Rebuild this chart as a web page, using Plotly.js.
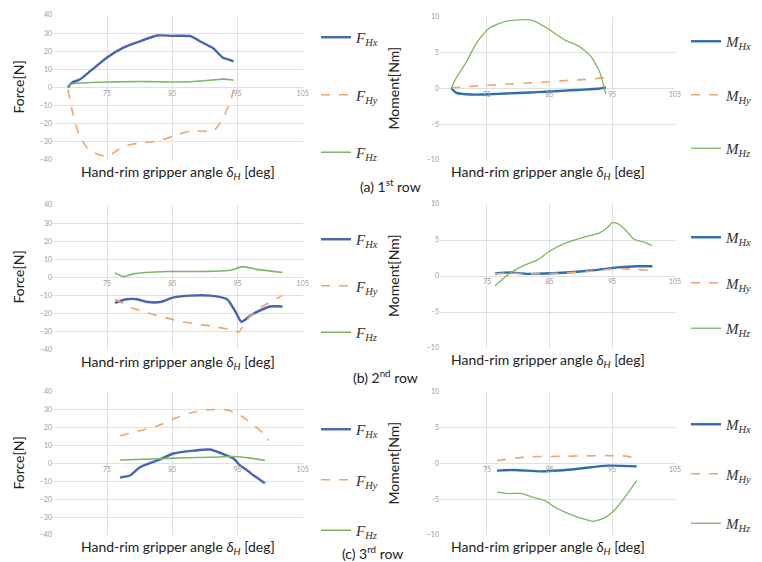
<!DOCTYPE html>
<html>
<head>
<meta charset="utf-8">
<script src="https://cdn.plot.ly/plotly-3.0.1.min.js"></script>
<style>html,body{margin:0;padding:0;background:#fff;}#chart{width:762px;height:562px;}</style>
</head>
<body>
<div id="chart"></div>
<script>
// ---------- tick labels ----------
const angleTicks = [75, 85, 95, 105];
const forceTicks = [-40, -30, -20, -10, 0, 10, 20, 30, 40];
const momentTicks = [-10, -5, 0, 5, 10];

// ---------- (a) 1st row : force ----------
const aForceAngle = [69, 69.6, 70.8, 72.4, 75, 77.5, 80, 82.7, 85, 87.8, 89.3, 91.3, 92.7, 94, 94.4];
const aFHx = [0, 2.7, 4.4, 9, 16.6, 22, 25.5, 28.7, 28.5, 28.3, 25.4, 21.5, 16.6, 15, 14.4];
const aFHy = [-1, -12, -27, -35, -38, -32.5, -30.5, -29.6, -27, -24, -24, -24, -17.6, -6.6, -1];
const aFHz = [1, 2, 2.5, 2.8, 3, 3.2, 3.3, 3.2, 3, 3.2, 3.6, 4.2, 4.6, 4.3, 4];
// ---------- (a) 1st row : moment ----------
const aMomentAngle = [69.3, 70.1, 71.7, 73.3, 75.3, 78, 82, 84.3, 87.4, 89.5, 91.5, 93, 93.7, 94];
const aMHx = [0, -0.6, -0.8, -0.85, -0.8, -0.7, -0.55, -0.45, -0.3, -0.2, -0.1, 0, 0.1, 0.1];
const aMHy = [0.1, 0.15, 0.25, 0.35, 0.45, 0.6, 0.8, 0.9, 1.1, 1.2, 1.3, 1.45, 1.5, 1.3];
const aMHz = [0, 1.5, 3.7, 6.3, 8.4, 9.4, 9.6, 8.6, 6.8, 6, 4.6, 2.3, 0.2, -0.8];

// ---------- (b) 2nd row : force ----------
const bFHxAngle = [76.2, 78, 79.6, 81.2, 83.2, 85.2, 87.8, 90.8, 93.4, 94.7, 95.6, 97, 98, 100, 101.9];
const bFHx = [-14, -12, -12, -13.5, -13.5, -11, -10, -10, -12, -19, -24.4, -21, -19, -16, -16];
const bFHyAngle = [76.2, 79, 82.7, 86.7, 91.3, 94.2, 95.2, 96.2, 98, 99.8, 101.3, 101.9];
const bFHy = [-12, -17, -21, -24.5, -27, -29, -30, -24.5, -17.8, -14, -11, -10];
const bFHzAngle = [76.2, 77.5, 79, 84.2, 89.3, 93.9, 95.8, 98, 101.9];
const bFHz = [2.7, 0.5, 2, 3.3, 3.3, 4, 6, 4.5, 2.8];
// ---------- (b) 2nd row : moment ----------
const bMHxyAngle = [76.3, 78.7, 81.5, 87, 92, 95.8, 99, 101.4];
const bMHx = [0.35, 0.5, 0.3, 0.45, 0.8, 1.2, 1.35, 1.35];
const bMHy = [0.3, 0.4, 0.3, 0.4, 0.7, 1.0, 0.9, 0.75];
const bMHzAngle = [76.3, 78.7, 81, 83, 85.1, 87.3, 90.5, 93, 94.2, 95, 95.8, 97, 98.5, 100.1, 101.4];
const bMHz = [-1.35, 0.4, 1.5, 2.2, 3.5, 4.5, 5.4, 6, 6.7, 7.4, 7.3, 6.5, 5.1, 4.7, 4.2];

// ---------- (c) 3rd row : force ----------
const cFHxAngle = [77, 78.5, 80, 82.7, 85.2, 88.3, 90.8, 93.4, 94.4, 95.4, 96.5, 97.5, 99.2];
const cFHx = [-7.8, -6.7, -2.2, 1.7, 5.6, 7.2, 7.8, 4.4, 2.8, -1.1, -3.9, -6.7, -11];
const cFHyAngle = [77, 80, 82.7, 85.2, 87.8, 90.4, 93.4, 95.4, 97, 98.8, 99.8];
const cFHy = [15.5, 18.3, 21, 25, 28.3, 30, 30, 27, 22.8, 17.4, 12.8];
const cFHzAngle = [77, 82, 87, 91, 94.4, 97, 99.2];
const cFHz = [2, 2.5, 3.2, 3.5, 3.9, 3, 1.7];
// ---------- (c) 3rd row : moment ----------
const cMHxAngle = [76.6, 79.4, 83.7, 88.9, 94.3, 98.9];
const cMHx = [-1, -0.9, -1.1, -0.8, -0.3, -0.4];
const cMHyAngle = [76.6, 81, 86.5, 94.3, 97.5, 98.9];
const cMHy = [0.4, 0.9, 1.0, 1.1, 1.0, 0.5];
const cMHzAngle = [76.6, 78.3, 80.5, 82.6, 84.3, 85.8, 88, 90.2, 92, 94, 95.6, 97.2, 98.9];
const cMHz = [-4, -4.2, -4.2, -4.8, -5.2, -6.1, -7, -7.7, -8.1, -7.5, -6.3, -4.5, -2.4];

// ---------- styling ----------
const W = 762, H = 562;
const px = v => v / W;
const py = v => 1 - v / H;
const BLUE_F = '#4665b5', BLUE_M = '#2e6db4', ORANGE = '#f2a46a', GREEN = '#7cb860';

function tr(x, y, n, name, color, width, dash, legend) {
  return {
    x: x, y: y, type: 'scatter', mode: 'lines',
    xaxis: 'x' + (n === 1 ? '' : n), yaxis: 'y' + (n === 1 ? '' : n),
    name: name, legend: legend, legendgroup: name + n,
    line: {color: color, width: width, dash: dash, shape: 'spline', smoothing: 0.6}
  };
}
const FX = '<i>F<sub>Hx</sub></i>', FY = '<i>F<sub>Hy</sub></i>', FZ = '<i>F<sub>Hz</sub></i>';
const MX = '<i>M<sub>Hx</sub></i>', MY = '<i>M<sub>Hy</sub></i>', MZ = '<i>M<sub>Hz</sub></i>';

const data = [
  tr(aForceAngle, aFHx, 1, FX, BLUE_F, 2.4, 'solid', 'legend'),
  tr(aForceAngle, aFHy, 1, FY, ORANGE, 1.6, 'dash', 'legend'),
  tr(aForceAngle, aFHz, 1, FZ, GREEN, 1.6, 'solid', 'legend'),
  tr(aMomentAngle, aMHx, 2, MX, BLUE_M, 2.4, 'solid', 'legend2'),
  tr(aMomentAngle, aMHy, 2, MY, ORANGE, 1.6, 'dash', 'legend2'),
  tr(aMomentAngle, aMHz, 2, MZ, GREEN, 1.3, 'solid', 'legend2'),
  tr(bFHxAngle, bFHx, 3, FX, BLUE_F, 2.4, 'solid', 'legend3'),
  tr(bFHyAngle, bFHy, 3, FY, ORANGE, 1.6, 'dash', 'legend3'),
  tr(bFHzAngle, bFHz, 3, FZ, GREEN, 1.6, 'solid', 'legend3'),
  tr(bMHxyAngle, bMHx, 4, MX, BLUE_M, 2.4, 'solid', 'legend4'),
  tr(bMHxyAngle, bMHy, 4, MY, ORANGE, 1.6, 'dash', 'legend4'),
  tr(bMHzAngle, bMHz, 4, MZ, GREEN, 1.3, 'solid', 'legend4'),
  tr(cFHxAngle, cFHx, 5, FX, BLUE_F, 2.4, 'solid', 'legend5'),
  tr(cFHyAngle, cFHy, 5, FY, ORANGE, 1.6, 'dash', 'legend5'),
  tr(cFHzAngle, cFHz, 5, FZ, GREEN, 1.6, 'solid', 'legend5'),
  tr(cMHxAngle, cMHx, 6, MX, BLUE_M, 2.4, 'solid', 'legend6'),
  tr(cMHyAngle, cMHy, 6, MY, ORANGE, 1.6, 'dash', 'legend6'),
  tr(cMHzAngle, cMHz, 6, MZ, GREEN, 1.3, 'solid', 'legend6')
];

// panel boxes in pixels: [left, right, top, bottom]
const boxes = [
  [53, 303, 15, 160], [440, 675, 17, 160],
  [53, 303, 205, 350], [440, 675, 204, 348],
  [53, 303, 392, 535], [440, 675, 392, 535]
];
// legend placement: [left px, top px, gap between entries]
const legendPos = [
  [316, 21, 35], [686, 25, 31],
  [316, 223, 24], [686, 221, 23],
  [316, 413, 28], [686, 408, 27]
];
const tickFont = {family: 'Lato, sans-serif', size: 7, color: '#9a9a9a'};
const layout = {
  width: W, height: H,
  margin: {l: 0, r: 0, t: 0, b: 0},
  paper_bgcolor: '#ffffff', plot_bgcolor: '#ffffff',
  showlegend: true,
  annotations: []
};
boxes.forEach((b, i) => {
  const n = i + 1, sfx = n === 1 ? '' : String(n);
  const isForce = i % 2 === 0;
  const yd = [py(b[3]), py(b[2])];
  layout['xaxis' + sfx] = {
    domain: [px(b[0]), px(b[1])],
    range: isForce ? [66.7, 105.05] : [67.5, 105.02],
    tickvals: angleTicks, ticktext: angleTicks.map(String),
    anchor: 'free', position: (yd[0] + yd[1]) / 2,
    showgrid: true, gridcolor: '#e0e0e0', gridwidth: 1,
    zeroline: false, showline: false, ticks: '',
    tickfont: tickFont
  };
  layout['yaxis' + sfx] = {
    domain: yd,
    anchor: 'x' + sfx,
    range: isForce ? [-40, 40] : [-10, 10],
    tickvals: isForce ? forceTicks : momentTicks,
    showgrid: true, gridcolor: '#e0e0e0', gridwidth: 1,
    zeroline: false, showline: false, ticks: '',
    tickfont: tickFont
  };
  layout.annotations.push({
    xref: 'paper', yref: 'paper',
    x: px((b[0] + b[1]) / 2 + (isForce ? 0 : -10)), y: py(b[3] + 12),
    text: 'Hand-rim gripper angle <i>δ<sub>H</sub></i> [deg]',
    showarrow: false, xanchor: 'center', yanchor: 'middle',
    font: {family: 'Lato, sans-serif', size: 14, color: '#222'}
  });
  layout.annotations.push({
    xref: 'paper', yref: 'paper',
    x: px(isForce ? 18 : 393), y: py((b[2] + b[3]) / 2),
    text: isForce ? 'Force[N]' : 'Moment[Nm]', textangle: -90,
    showarrow: false, xanchor: 'center', yanchor: 'middle',
    font: {family: 'Lato, sans-serif', size: 14, color: '#222'}
  });
  const lp = legendPos[i];
  layout['legend' + (n === 1 ? '' : n)] = {
    x: px(lp[0]), y: py(lp[1]),
    xanchor: 'left', yanchor: 'top',
    bgcolor: 'rgba(0,0,0,0)',
    font: {family: 'Liberation Serif, serif', size: 15, color: '#333'},
    tracegroupgap: lp[2], itemwidth: 30
  };
});
const captions = [
  ['(a) 1<sup>st</sup> row', 390, 185],
  ['(b) 2<sup>nd</sup> row', 385, 376],
  ['(c) 3<sup>rd</sup> row', 372, 552]
];
captions.forEach(c => layout.annotations.push({
  xref: 'paper', yref: 'paper', x: px(c[1]), y: py(c[2]),
  text: c[0], showarrow: false, xanchor: 'center', yanchor: 'middle',
  font: {family: 'Lato, sans-serif', size: 14, color: '#222'}
}));

Plotly.newPlot('chart', data, layout, {displayModeBar: false, staticPlot: true});
</script>
</body>
</html>
